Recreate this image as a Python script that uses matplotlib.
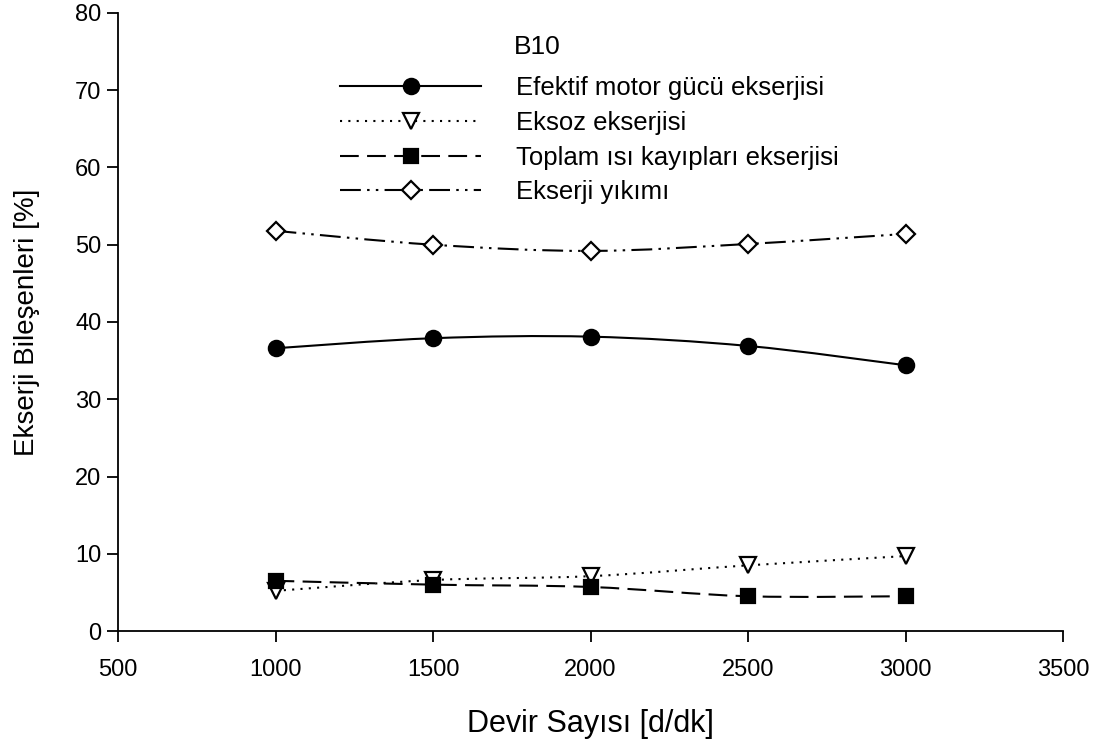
import matplotlib
matplotlib.use("Agg")
import matplotlib.pyplot as plt
import numpy as np
from matplotlib.lines import Line2D
from matplotlib.patches import PathPatch
from matplotlib.path import Path

plt.rcParams["font.family"] = ["Liberation Sans", "DejaVu Sans"]

rpm = [1000, 1500, 2000, 2500, 3000]
efektif = [36.6, 37.9, 38.1, 36.9, 34.4]
eksoz = [5.2, 6.6, 7.1, 8.5, 9.7]
isi_kayip = [6.5, 6.0, 5.7, 4.5, 4.5]
yikim = [51.8, 50.0, 49.2, 50.1, 51.4]

labels = [
    "Efektif motor gücü ekserjisi",
    "Eksoz ekserjisi",
    "Toplam ısı kayıpları ekserjisi",
    "Ekserji yıkımı",
]

styles = [
    dict(ls="-", marker="o", mfc="black", ms=11),
    dict(ls=(0, (1, 3)), marker="v", mfc="white", ms=12),
    dict(ls=(0, (9, 4)), marker="s", mfc="black", ms=10.5),
    dict(ls=(0, (10, 3, 1.2, 3, 1.2, 3)), marker="D", mfc="white", ms=9.5),
]


def smooth_path(x, y):
    # Catmull-Rom spline through the points, as cubic Bezier segments
    pts = np.column_stack([x, y]).astype(float)
    ext = np.vstack([pts[0], pts, pts[-1]])
    verts = [pts[0]]
    codes = [Path.MOVETO]
    for i in range(1, len(ext) - 2):
        p0, p1, p2, p3 = ext[i - 1], ext[i], ext[i + 1], ext[i + 2]
        verts += [p1 + (p2 - p0) / 6, p2 - (p3 - p1) / 6, p2]
        codes += [Path.CURVE4] * 3
    return Path(verts, codes)


fig = plt.figure(figsize=(11, 7.45), dpi=100)
ax = fig.add_axes([0.1073, 0.153, 0.8591, 0.8296])

handles = []
for series, st in zip([efektif, eksoz, isi_kayip, yikim], styles):
    ax.add_patch(PathPatch(smooth_path(rpm, series), fill=False,
                           edgecolor="black", lw=1.5, linestyle=st["ls"]))
    ax.plot(rpm, series, ls="none", marker=st["marker"], ms=st["ms"],
            mfc=st["mfc"], mec="black", mew=1.6, zorder=3)
    handles.append(Line2D([], [], color="black", lw=1.5, ls=st["ls"],
                          marker=st["marker"], ms=st["ms"], mfc=st["mfc"],
                          mec="black", mew=1.6))

ax.set_xlim(500, 3500)
ax.set_ylim(0, 80)
ax.set_xticks(np.arange(500, 3501, 500))
ax.set_yticks(np.arange(0, 81, 10))
for side in ["top", "right"]:
    ax.spines[side].set_visible(False)
for side in ["left", "bottom"]:
    ax.spines[side].set_linewidth(1.3)
ax.tick_params(direction="out", length=8, width=1.3, labelsize=17)
ax.tick_params(axis="x", pad=12)
ax.tick_params(axis="y", pad=4)

ax.set_xlabel("Devir Sayısı [d/dk]", fontsize=22, labelpad=20)
ax.set_ylabel("Ekserji Bileşenleri [%]", fontsize=20, labelpad=25)

fig.text(514 / 1100, 1 - 47 / 745, "B10", fontsize=19, va="center", ha="left")

fig.legend(handles, labels, loc="upper left", bbox_to_anchor=(340 / 1100, 1 - 76 / 745),
           frameon=False, fontsize=18.5, handlelength=5.5, handletextpad=1.35,
           labelspacing=0.42, numpoints=1, borderpad=0, borderaxespad=0)

fig.savefig("out.png", dpi=100)
